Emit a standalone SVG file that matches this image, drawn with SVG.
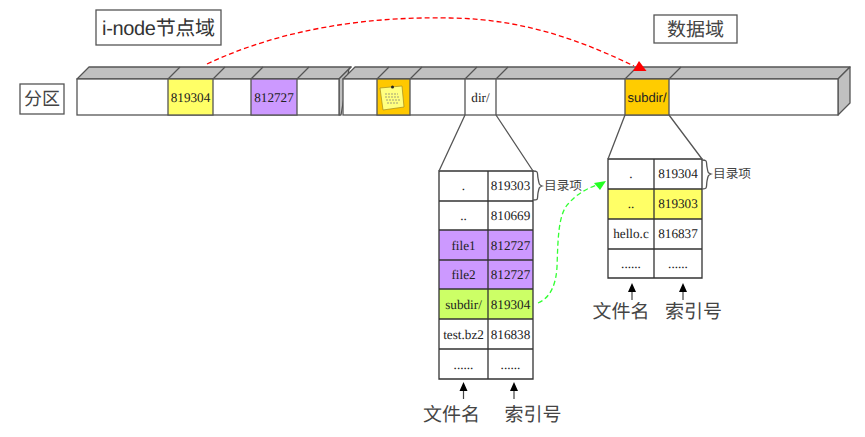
<svg xmlns="http://www.w3.org/2000/svg" width="865" height="437" viewBox="0 0 865 437">
<style>
text{font-family:"Liberation Serif","Noto Sans CJK SC",serif;fill:#222;text-anchor:middle;text-rendering:geometricPrecision}
.c{font-size:13.2px}
.s{font-family:"Liberation Sans","Noto Sans CJK SC",sans-serif}
.cn{font-family:"Noto Sans CJK SC","Liberation Serif",serif;fill:#444}
.b{fill:#fff;stroke:#555;stroke-width:1.3}
.t{fill:#c0c0c0;stroke:#555;stroke-width:1.3;stroke-linejoin:round}
.l{fill:none;stroke:#555;stroke-width:1.3}
.g{fill:none;stroke:#333;stroke-width:1.3}
.st{stroke:#444;stroke-width:1.2;fill:none}
</style>
<g id="partition-label"><rect class="b" x="20" y="84" width="44" height="30"/><text class="cn" x="42" y="105" font-size="18">分区</text></g>
<g id="inode-label"><rect class="b" x="96" y="10" width="125" height="35"/><text class="s" x="158.500" y="35" font-size="20" style="fill:#333" textLength="113">i-node节点域</text></g>
<g id="data-label"><rect class="b" x="654" y="15" width="83" height="28"/><text class="cn" x="695.500" y="36" font-size="19">数据域</text></g>

<g id="bar-left">
<path class="t" d="M77 79L89 67H351L339 79Z"/>
<path class="t" d="M339 79L351 67L349 69L341 115H339Z"/>
<rect class="b" x="77" y="79" width="262" height="36"/>
<g id="cell-819304"><path class="l" d="M168 79L180 67M213 79L225 67"/><rect x="168" y="79" width="45" height="36" fill="#ffff66" stroke="#555" stroke-width="1.3"/><text class="c" x="190.500" y="102">819304</text></g>
<g id="cell-812727"><path class="l" d="M251 79L263 67M297 79L309 67"/><rect x="251" y="79" width="46" height="36" fill="#cc99ff" stroke="#555" stroke-width="1.3"/><text class="c" x="274" y="102">812727</text></g>
</g>

<g id="bar-right">
<path class="t" d="M343 79L355 67H850L838 79Z"/>
<path class="t" d="M838 79L850 67V103L838 115Z"/>
<rect class="b" x="343" y="79" width="495" height="36"/>
<g id="cell-note"><path class="l" d="M377 79L389 67M410 79L422 67"/><rect x="377" y="79" width="33" height="36" fill="#ffc800" stroke="#555" stroke-width="1.3"/>
<path d="M380 88L402 86L404 107L383 110Z" fill="#ffff80" stroke="#a08a20" stroke-width="0.7"/><circle cx="392.500" cy="87" r="1.500" fill="#222"/>
<path d="M385 94H398M385 97H400M386 100H400M387 103H399" stroke="#777" stroke-width="0.7" fill="none" stroke-dasharray="2 1"/></g>
<g id="cell-dir"><path class="l" d="M465 79L477 67M496 79L508 67M465 79V115M496 79V115"/><text class="c" x="480.500" y="102">dir/</text></g>
<g id="cell-subdir"><path class="l" d="M625 79L637 67M669 79L681 67"/><rect x="625" y="79" width="44" height="36" fill="#ffcc00" stroke="#555" stroke-width="1.3"/><text class="s" x="647" y="102" font-size="13">subdir/</text></g>
</g>

<g id="directory-table">
<rect x="439" y="230" width="94" height="59" fill="#cc99ff"/>
<rect x="439" y="289" width="94" height="30" fill="#ccff66"/>
<path class="g" d="M439 171H533V379H439ZM488 171V379M439 201H533M439 230H533M439 260H533M439 289H533M439 319H533M439 349H533"/>
<text class="c" x="463.500" y="190">.</text><text class="c" x="510.500" y="190">819303</text>
<text class="c" x="463.500" y="220">..</text><text class="c" x="510.500" y="220">810669</text>
<text class="c" x="463.500" y="250">file1</text><text class="c" x="510.500" y="250">812727</text>
<text class="c" x="463.500" y="279">file2</text><text class="c" x="510.500" y="279">812727</text>
<text class="c" x="463.500" y="309">subdir/</text><text class="c" x="510.500" y="309">819304</text>
<text class="c" x="463.500" y="339">test.bz2</text><text class="c" x="510.500" y="339">816838</text>
<text class="c" x="463.500" y="369">......</text><text class="c" x="510.500" y="369">......</text>
</g>

<g id="subdir-table">
<rect x="608" y="189" width="94" height="30" fill="#ffff66"/>
<path class="g" d="M608 159H702V278H608ZM654 159V278M608 189H702M608 219H702M608 249H702"/>
<text class="c" x="631" y="178">.</text><text class="c" x="678" y="178">819304</text>
<text class="c" x="631" y="208">..</text><text class="c" x="678" y="208">819303</text>
<text class="c" x="631" y="238">hello.c</text><text class="c" x="678" y="238">816837</text>
<text class="c" x="631" y="268">......</text><text class="c" x="678" y="268">......</text>
</g>

<g id="entry-label-1"><path class="l" d="M533 171C539 171 537 173 538 178C539 184 539 185 542 186C539 187 539 188 538 193C537 199 539 200 533 200"/><text class="cn" x="563" y="190" font-size="12.700">目录项</text></g>
<g id="entry-label-2"><path class="l" d="M702 160C708 160 706 162 707 167C708 173 708 173 711 174C708 175 708 176 707 181C706 187 708 189 702 189"/><text class="cn" x="732" y="178" font-size="12.700">目录项</text></g>

<g id="column-labels-1"><text class="cn" x="451.500" y="421" font-size="19">文件名</text><text class="cn" x="533" y="421" font-size="19">索引号</text></g>
<g id="column-labels-2"><text class="cn" x="621" y="318" font-size="19">文件名</text><text class="cn" x="693.500" y="318" font-size="19">索引号</text></g>

<g id="connectors">
<path class="l" d="M465 115L439 171M496 115L533 171M625 115L608 159M669 115L702 159"/>
<path class="st" d="M463.500 399V390M514 399V390M632 300V291M683 300V291"/>
<path d="M463.500 382L467.500 391H459.500Z M514 382L518 391H510Z M632 283L636 292H628Z M683 283L687 292H679Z" fill="#000"/>
<path d="M207 64C300 20 400 17 450 18C530 19 590 45 634 66" fill="none" stroke="#f00" stroke-width="1.300" stroke-dasharray="5 3"/>
<path d="M639 61L646.500 71H633Z" fill="#f00"/>
<path d="M538 303C550 298 556 285 557 267C558 240 558 215 568 204C576 195 585 189 597 185" fill="none" stroke="#3f3" stroke-width="1.300" stroke-dasharray="5 3"/>
<path d="M606 181L594 183L600 190Z" fill="#2f2"/>
</g>
</svg>
